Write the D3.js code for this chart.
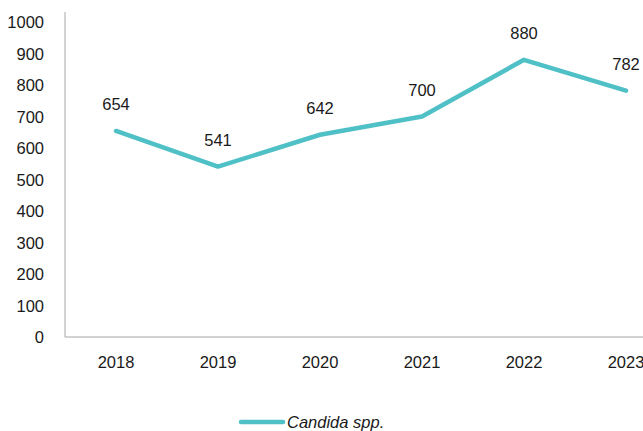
<!DOCTYPE html>
<html>
<head>
<meta charset="utf-8">
<script src="https://cdn.jsdelivr.net/npm/d3@7"></script>
<style>
  body { margin: 0; background: #fff; }
  text { font-family: 'Liberation Sans', Arial, sans-serif; fill: #1a1a1a; }
</style>
</head>
<body>
<svg id="chart" width="643" height="431"></svg>
<script>
/* chart data */
const years = ['2018', '2019', '2020', '2021', '2022', '2023']
const cases = [654, 541, 642, 700, 880, 782]
const yTicks = [0, 100, 200, 300, 400, 500, 600, 700, 800, 900, 1000]
const seriesName = 'Candida spp.'

const lineColor = '#4fc0c6'
const fontSize = '16.5px'
const svg = d3.select('#chart')

/* plot area */
const plot = { left: 65, top: 12, bottom: 337, right: 643 }

const xScale = d3.scaleBand()
  .domain(years)
  .range([plot.left, plot.left + 102 * years.length])

const yScale = d3.scaleLinear()
  .domain([0, 1000])
  .range([plot.bottom, 22])

const xPos = (d) => xScale(d) + xScale.bandwidth() / 2

/* y-axis */
svg.append('g')
  .attr('transform', `translate(${plot.left}, 0)`)
  .call(d3.axisLeft(yScale).tickValues(yTicks).tickFormat(d3.format('d')).tickSize(0).tickPadding(21))
  .call((g) => g.select('.domain').remove())
  .call((g) => g.selectAll('text').style('font-size', fontSize).attr('dy', '0.36em'))

/* x-axis labels */
svg.append('g')
  .attr('transform', `translate(0, ${plot.bottom})`)
  .call(d3.axisBottom(xScale).tickSize(0).tickPadding(19))
  .call((g) => g.select('.domain').remove())
  .call((g) => g.selectAll('text').style('font-size', fontSize))

/* axis lines */
svg.append('line')
  .attr('x1', plot.left).attr('x2', plot.left)
  .attr('y1', plot.top).attr('y2', plot.bottom)
  .attr('stroke', '#a6a6a6').attr('stroke-width', 1)
svg.append('line')
  .attr('x1', plot.left).attr('x2', plot.right)
  .attr('y1', plot.bottom).attr('y2', plot.bottom)
  .attr('stroke', '#a6a6a6').attr('stroke-width', 1)

/* data line */
const line = d3.line()
  .x((d, i) => xPos(years[i]))
  .y((d) => yScale(d))

svg.append('path')
  .datum(cases)
  .attr('d', line)
  .attr('fill', 'none')
  .attr('stroke', lineColor)
  .attr('stroke-width', 4.5)
  .attr('stroke-linejoin', 'round')
  .attr('stroke-linecap', 'round')

/* value labels */
svg.selectAll('text.val')
  .data(cases)
  .enter()
  .append('text')
  .attr('class', 'val')
  .attr('x', (d, i) => xPos(years[i]))
  .attr('y', (d) => yScale(d) - 21)
  .attr('text-anchor', 'middle')
  .style('font-size', fontSize)
  .text((d) => d)

/* legend */
const legend = svg.append('g').attr('transform', 'translate(241, 422)')
legend.append('line')
  .attr('x1', 0).attr('x2', 42)
  .attr('stroke', lineColor).attr('stroke-width', 4.5)
  .attr('stroke-linecap', 'round')
legend.append('text')
  .attr('x', 46).attr('dy', '0.36em')
  .style('font-size', fontSize)
  .style('font-style', 'italic')
  .text(seriesName)
</script>
</body>
</html>
